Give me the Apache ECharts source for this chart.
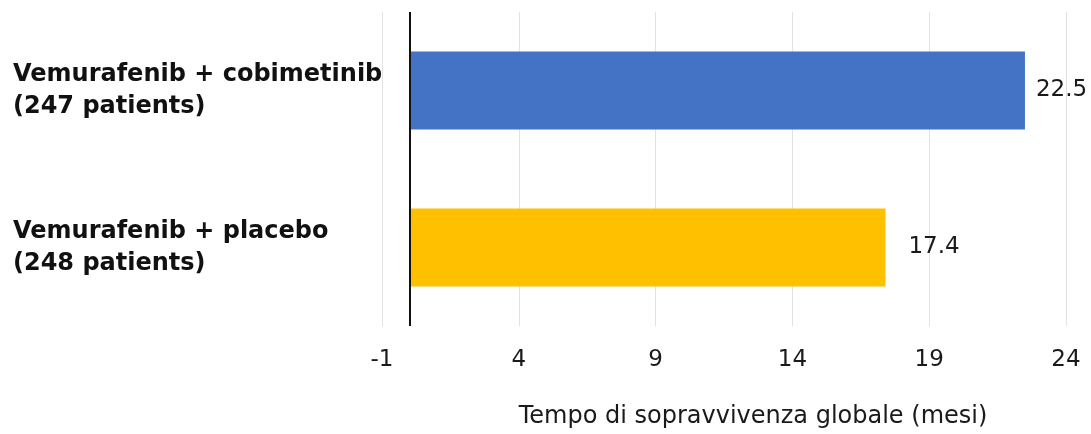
<!DOCTYPE html>
<html>
<head>
<meta charset="utf-8">
<script src="https://cdn.jsdelivr.net/npm/echarts@6/dist/echarts.min.js"></script>
<style>
  html, body { margin: 0; padding: 0; background: #ffffff; }
  #chart { width: 1091px; height: 434px; }
</style>
</head>
<body>
<div id="chart"></div>
<script>
// Treatment arms and median overall survival (months)
const categories = [
  'Vemurafenib + cobimetinib\n(247 patients)',
  'Vemurafenib + placebo\n(248 patients)'
];
const survivalMonths = [22.5, 17.4];
const barColors = ['#4472C4', '#FFC000'];
const labelGaps = [11, 23];

const axisMin = -1;
const axisMax = 24;
const axisStep = 5;
const axisTitle = 'Tempo di sopravvivenza globale (mesi)';

const chart = echarts.init(document.getElementById('chart'), null, { renderer: 'canvas' });

const seriesData = survivalMonths.map((v, i) => ({
  value: v,
  itemStyle: { color: barColors[i] },
  label: { distance: labelGaps[i] }
}));

chart.setOption({
  animation: false,
  grid: { left: 382, right: 25, top: 12, bottom: 94, containLabel: false },
  xAxis: {
    type: 'value',
    min: axisMin,
    max: axisMax,
    interval: axisStep,
    axisLine: { show: false },
    axisTick: { show: false },
    splitLine: { show: true, lineStyle: { color: '#e2e2e2', width: 1 } },
    axisLabel: {
      margin: 23,
      fontFamily: 'DejaVu Sans',
      fontSize: 23,
      color: '#1a1a1a'
    },
    name: axisTitle,
    nameLocation: 'middle',
    nameGap: 79,
    nameTextStyle: {
      fontFamily: 'DejaVu Sans',
      fontSize: 24,
      color: '#1a1a1a',
      padding: [0, 0, 0, 58]
    }
  },
  yAxis: {
    type: 'category',
    data: categories,
    inverse: true,
    axisLine: { show: false },
    axisTick: { show: false },
    splitLine: { show: false },
    axisLabel: {
      align: 'left',
      margin: 369,
      fontFamily: 'DejaVu Sans',
      fontWeight: 'bold',
      fontSize: 24,
      lineHeight: 32,
      color: '#111111'
    }
  },
  series: [{
    type: 'bar',
    data: seriesData,
    barWidth: 78,
    label: {
      show: true,
      position: 'right',
      fontFamily: 'DejaVu Sans',
      fontSize: 23,
      color: '#1a1a1a'
    },
    markLine: {
      silent: true,
      symbol: 'none',
      label: { show: false },
      lineStyle: { color: '#111111', width: 2, type: 'solid' },
      data: [{ xAxis: 0 }]
    }
  }]
});
</script>
</body>
</html>
